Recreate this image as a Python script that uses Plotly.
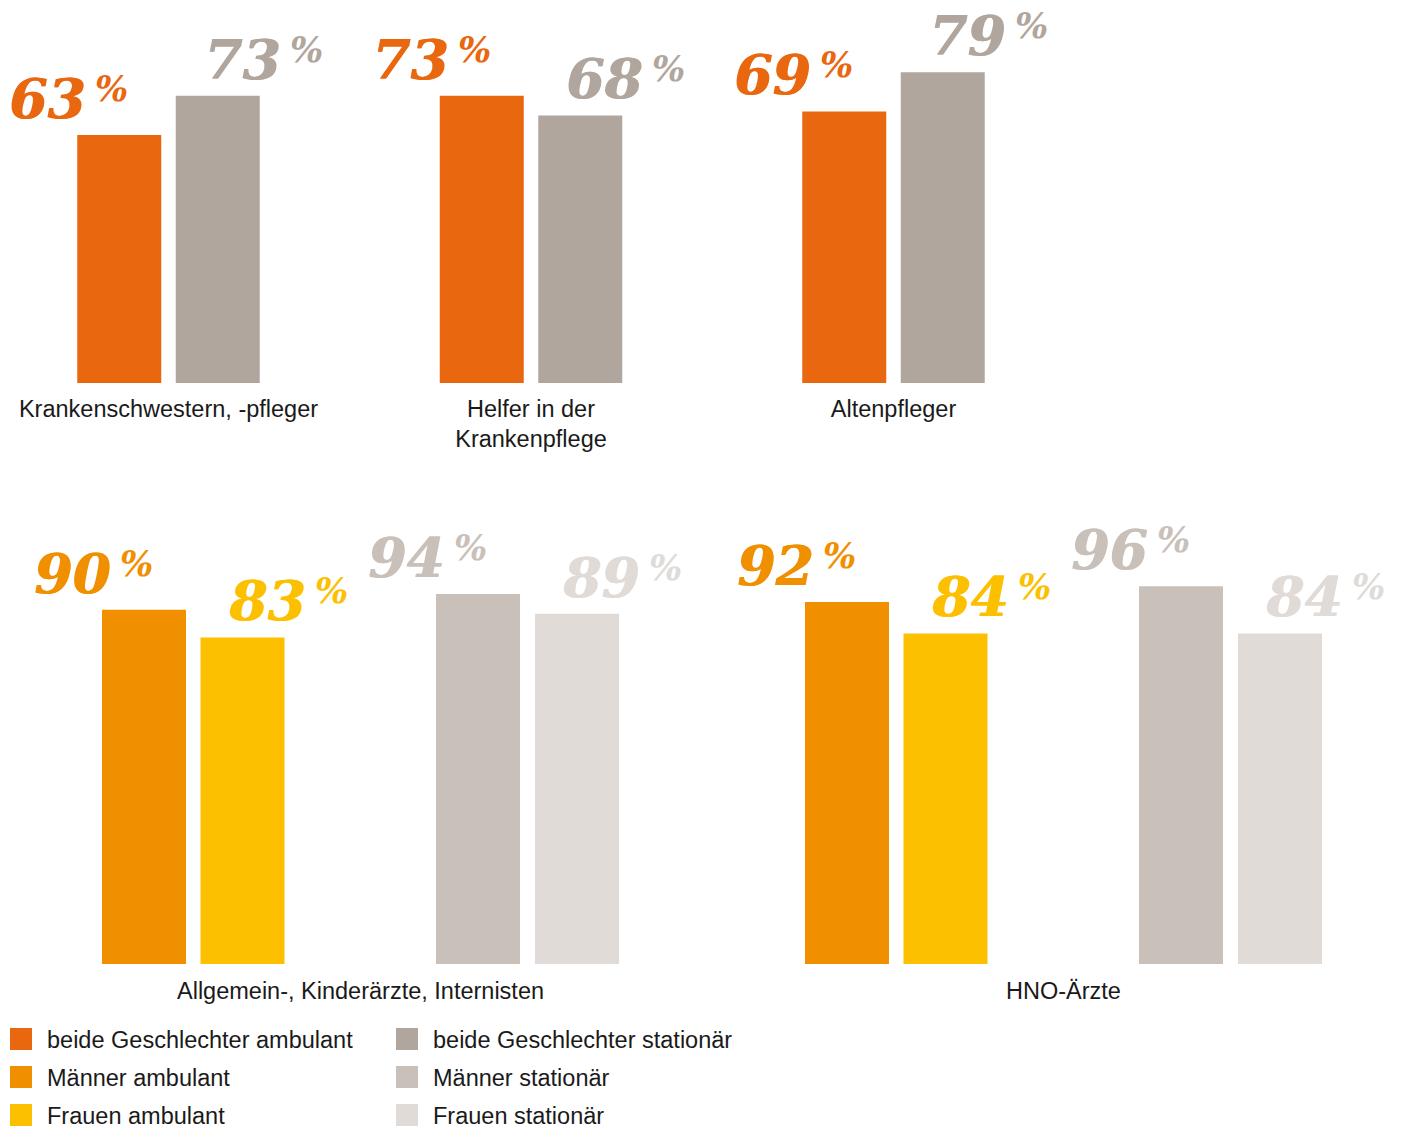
import plotly.graph_objects as go

# --- data -------------------------------------------------------------
top_groups = ["Krankenschwestern, -pfleger", "Helfer in der<br>Krankenpflege", "Altenpfleger"]
beide_ambulant = [63, 73, 69]
beide_stationaer = [73, 68, 79]

bottom_groups = ["Allgemein-, Kinderärzte, Internisten", "HNO-Ärzte"]
maenner_ambulant = [90, 92]
frauen_ambulant = [83, 84]
maenner_stationaer = [94, 96]
frauen_stationaer = [89, 84]

series_names = [
    "beide Geschlechter ambulant", "Männer ambulant", "Frauen ambulant",
    "beide Geschlechter stationär", "Männer stationär", "Frauen stationär",
]
series_colors = ["#E9670F", "#F08F00", "#FCC000", "#B0A69D", "#C9C0BA", "#E0DBD7"]

# --- layout constants (pixel-based x axis) ----------------------------
W, H = 1405, 1128
PX_PER_PCT = 3.935
BAR_W = 84
TOP_BASE, BOTTOM_BASE, BOTTOM_TOP = 383, 964, 500
top_centers = [168.5 + i * 362.5 for i in range(len(top_groups))]
bottom_centers = [360.5 + i * 703 for i in range(len(bottom_groups))]
TOP_OFFSETS = [-49.25, 49.25]
BOTTOM_OFFSETS = [-216.5, -118, 117.5, 216.5]

NUM_FONT = dict(family="DejaVu Serif", size=55, weight="bold", style="italic")
PCT_FONT = dict(family="DejaVu Serif", size=35, weight="bold", style="italic")
LABEL_FONT = dict(family="Liberation Sans, Arial", size=23.5, color="#1a1a1a")

fig = go.Figure()
annotations = []


def add_series(values, centers, offset, color, name, axis, left_label):
    xs = [c + offset for c in centers]
    xr = "x" if axis == 1 else "x2"
    yr = "y" if axis == 1 else "y2"
    fig.add_trace(go.Bar(
        x=xs, y=values, width=BAR_W, marker=dict(color=color, line=dict(width=0)),
        name=name, showlegend=False, xaxis=xr, yaxis=yr, hoverinfo="skip",
    ))
    # heavy value labels: a slight same-colour shadow thickens the strokes
    heavy = f"1px 0px 0px {color}"
    for x, v in zip(xs, values):
        num_right = x - 31 if left_label else x + 65
        annotations.append(dict(
            x=num_right, y=v, xref=xr, yref=yr, text=str(v), showarrow=False,
            xanchor="right", yanchor="bottom", yshift=2,
            font=dict(color=color, shadow=heavy, **NUM_FONT),
        ))
        annotations.append(dict(
            x=num_right + 5, y=v, xref=xr, yref=yr, text="%", showarrow=False,
            xanchor="left", yanchor="bottom", yshift=24,
            font=dict(color=color, **PCT_FONT),
        ))


# top row: both sexes, outpatient vs inpatient
add_series(beide_ambulant, top_centers, TOP_OFFSETS[0], series_colors[0], series_names[0], 1, True)
add_series(beide_stationaer, top_centers, TOP_OFFSETS[1], series_colors[3], series_names[3], 1, False)

# bottom row: by sex
add_series(maenner_ambulant, bottom_centers, BOTTOM_OFFSETS[0], series_colors[1], series_names[1], 2, True)
add_series(frauen_ambulant, bottom_centers, BOTTOM_OFFSETS[1], series_colors[2], series_names[2], 2, False)
add_series(maenner_stationaer, bottom_centers, BOTTOM_OFFSETS[2], series_colors[4], series_names[4], 2, True)
add_series(frauen_stationaer, bottom_centers, BOTTOM_OFFSETS[3], series_colors[5], series_names[5], 2, False)

# legend: two columns of swatches + text
shapes = []
for i, (name, color) in enumerate(zip(series_names, series_colors)):
    col, row = divmod(i, 3)
    x0 = 10 + col * 386
    y0 = 1028 + row * 38
    shapes.append(dict(
        type="rect", xref="paper", yref="paper",
        x0=x0 / W, x1=(x0 + 22) / W, y0=1 - (y0 + 22) / H, y1=1 - y0 / H,
        fillcolor=color, line=dict(width=0),
    ))
    annotations.append(dict(
        x=(x0 + 35) / W, y=1 - (y0 + 12) / H, xref="paper", yref="paper",
        text=name, showarrow=False, xanchor="left", yanchor="middle",
        font=LABEL_FONT,
    ))

axis_common = dict(range=[0, W], domain=[0, 1], showgrid=False, zeroline=False,
                   showline=False, ticks="", tickfont=LABEL_FONT, fixedrange=True)

fig.update_layout(
    width=W, height=H, margin=dict(l=0, r=0, t=0, b=0),
    paper_bgcolor="white", plot_bgcolor="white",
    barmode="overlay",
    xaxis=dict(anchor="y", tickvals=top_centers, ticktext=top_groups,
               ticklabelstandoff=9, **axis_common),
    yaxis=dict(domain=[1 - TOP_BASE / H, 1], range=[0, TOP_BASE / PX_PER_PCT], visible=False),
    xaxis2=dict(anchor="y2", tickvals=bottom_centers, ticktext=bottom_groups,
                ticklabelstandoff=10, **axis_common),
    yaxis2=dict(domain=[1 - BOTTOM_BASE / H, 1 - BOTTOM_TOP / H],
                range=[0, (BOTTOM_BASE - BOTTOM_TOP) / PX_PER_PCT], visible=False),
    annotations=annotations, shapes=shapes,
)

fig.write_html("out.html")
